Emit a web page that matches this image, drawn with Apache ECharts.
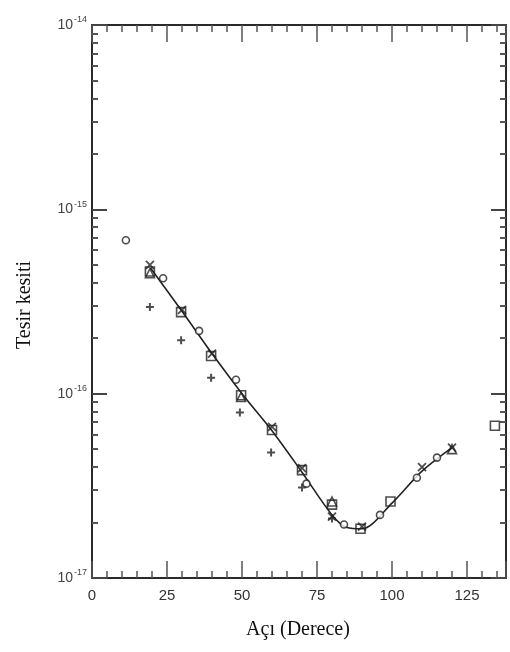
<!DOCTYPE html>
<html><head><meta charset="utf-8">
<script src="https://cdn.jsdelivr.net/npm/echarts@6/dist/echarts.min.js"></script>
<style>html,body{margin:0;padding:0;background:#fff}#c{width:510px;height:652px}</style>
</head><body><div id="c"></div>
<script>
var xTicks = [0, 25, 50, 75, 100, 125];
var yDecades = [1e-17, 1e-16, 1e-15, 1e-14];
var diamonds = [[11.3,6.8e-16],[23.7,4.23e-16],[35.7,2.19e-16],[48,1.19e-16],[71.5,3.25e-17],[84,1.95e-17],[96,2.2e-17],[108.3,3.5e-17],[115,4.5e-17]];
var squares = [[19.3,4.6e-16],[29.7,2.77e-16],[39.7,1.6e-16],[49.7,9.8e-17],[60,6.35e-17],[70,3.85e-17],[80,2.5e-17],[89.5,1.85e-17],[99.5,2.6e-17],[134.3,6.7e-17]];
var crosses = [[19.3,5.0e-16],[30,2.85e-16],[40,1.65e-16],[60,6.6e-17],[70,3.95e-17],[80,2.15e-17],[90,1.9e-17],[110,4.0e-17],[120,5.1e-17]];
var pluses = [[19.3,2.95e-16],[29.7,1.95e-16],[39.7,1.22e-16],[49.3,7.9e-17],[59.7,4.8e-17],[70,3.1e-17],[80,2.1e-17]];
var triangles = [[19.3,4.5e-16],[49.7,9.6e-17],[80,2.6e-17],[120,5.0e-17]];
var fitLine = [[19.5,4.8e-16],[30,2.8e-16],[40,1.65e-16],[50,1.0e-16],[60,6.3e-17],[70,3.75e-17],[80,2.2e-17],[85,1.88e-17],[90,1.85e-17],[100,2.55e-17],[110,3.8e-17],[120,5.1e-17]];
var minorLog = [];
for (var d = -17; d < -14; d++) { for (var m = 2; m <= 9; m++) { minorLog.push(d + Math.log10(m)); } }

var chart = echarts.init(document.getElementById('c'), null, {renderer: 'canvas'});
var axisCol = '#2a2a2a';
var xMax = 138;
var G = {left: 92, right: 4, top: 25, bottom: 74, containLabel: false};
function xAxisCfg(pos, labels) {
  return {
    type: 'value', gridIndex: 0, position: pos, min: 0, max: xMax, interval: 25,
    axisLine: {show: true, onZero: false, lineStyle: {color: axisCol, width: 2}},
    axisTick: {show: true, inside: true, length: 17, lineStyle: {color: '#555', width: 1.5}},
    minorTick: {show: true, splitNumber: 5, length: 7, lineStyle: {color: '#555', width: 1.5}},
    splitLine: {show: false}, minorSplitLine: {show: false},
    axisLabel: {show: labels, color: '#333', fontSize: 15, fontFamily: 'Liberation Sans, Arial, sans-serif', margin: 10,
      customValues: xTicks}
  };
}
function yLogCfg(pos, labels) {
  return {
    type: 'log', gridIndex: 0, logBase: 10, position: pos, min: 1e-17, max: 1e-14,
    axisLine: {show: true, onZero: false, lineStyle: {color: axisCol, width: 2}},
    axisTick: {show: true, inside: true, length: 15, lineStyle: {color: '#444', width: 2}, customValues: yDecades},
    splitLine: {show: false},
    axisLabel: {show: labels, customValues: yDecades, margin: 5,
      formatter: function (v) { var e = Math.round(Math.log10(v)); return '{b|10}{s|' + e + '}'; },
      rich: {b: {fontSize: 14, color: '#444', fontFamily: 'Liberation Sans, Arial, sans-serif'},
             s: {fontSize: 9, color: '#444', fontFamily: 'Liberation Sans, Arial, sans-serif', padding: [0, 0, 10, 1]}}}
  };
}
function yMinorCfg(pos) {
  return {
    type: 'value', gridIndex: 1, position: pos, min: -17, max: -14,
    axisLine: {show: false},
    axisTick: {show: true, inside: true, length: 6, lineStyle: {color: '#555', width: 2}, customValues: minorLog},
    axisLabel: {show: false}, splitLine: {show: false}
  };
}
var sym = {
  cross: 'path://M0,0L10,10M10,0L0,10',
  plus: 'path://M5,0L5,10M0,5L10,5'
};
function scat(name, data, symbol, size, fill, bw) {
  return {
    type: 'scatter', name: name, data: data, xAxisIndex: 0, yAxisIndex: 0,
    symbol: symbol, symbolSize: size, z: 5,
    itemStyle: {color: fill, borderColor: '#222', borderWidth: bw}
  };
}
chart.setOption({
  animation: false,
  backgroundColor: '#fff',
  grid: [G, G],
  xAxis: [xAxisCfg('bottom', true), xAxisCfg('top', false),
    {type: 'value', gridIndex: 1, min: 0, max: xMax, show: false}],
  yAxis: [yLogCfg('left', true), yLogCfg('right', false), yMinorCfg('left'), yMinorCfg('right')],
  graphic: [
    {type: 'text', x: 298, y: 630, style: {text: 'Açı (Derece)', font: '20px "Liberation Serif", "Times New Roman", serif', fill: '#111', textAlign: 'center', textVerticalAlign: 'middle'}},
    {type: 'text', x: 25, y: 305, rotation: Math.PI / 2, style: {text: 'Tesir kesiti', font: '20px "Liberation Serif", "Times New Roman", serif', fill: '#111', textAlign: 'center', textVerticalAlign: 'middle'}}
  ],
  series: [
    {type: 'line', name: 'fit', data: fitLine, xAxisIndex: 0, yAxisIndex: 0, smooth: 0.3, showSymbol: false,
      lineStyle: {color: '#222', width: 1.6}, z: 3},
    scat('diamond', diamonds, 'circle', 7, '#fff', 1.6),
    scat('square', squares, 'rect', 9, 'rgba(255,255,255,0)', 1.6),
    scat('triangle', triangles, 'triangle', 9, 'rgba(255,255,255,0)', 1.6),
    scat('cross', crosses, sym.cross, 8, 'rgba(255,255,255,0)', 1.8),
    scat('plus', pluses, sym.plus, 8, 'rgba(255,255,255,0)', 2)
  ]
});
</script></body></html>
